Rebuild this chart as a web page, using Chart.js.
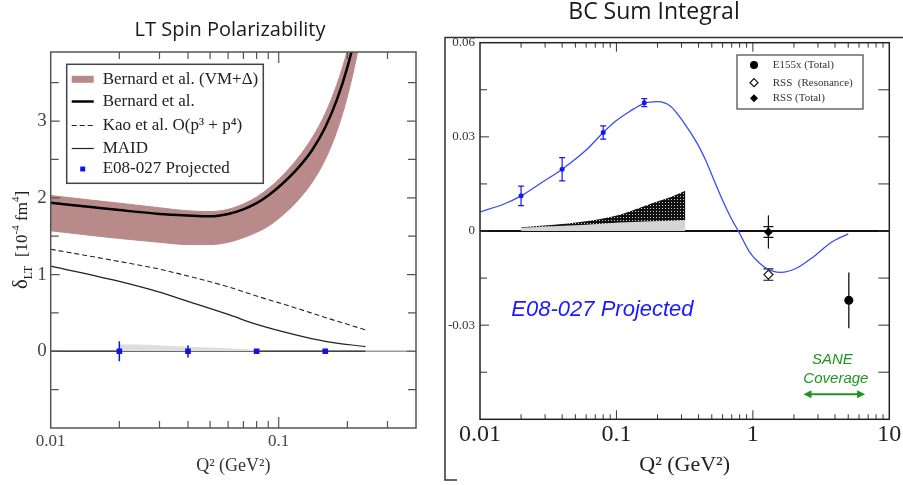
<!DOCTYPE html>
<html><head><meta charset="utf-8">
<script src="https://cdn.jsdelivr.net/npm/chart.js@4.4.1/dist/chart.umd.min.js"></script>
<style>
html,body{margin:0;padding:0;background:#fff;}
#wrap{position:relative;width:903px;height:485px;overflow:hidden;background:#fff;}
#c1{position:absolute;left:0;top:0;}
#c2{position:absolute;left:430px;top:0;}
</style></head><body>
<div id="wrap">
<canvas id="c1" width="430" height="485"></canvas>
<canvas id="c2" width="473" height="485"></canvas>
</div>
<script>
// ================= LEFT PANEL: LT Spin Polarizability =================
const ltQ2 = [0.01, 0.015, 0.02, 0.03, 0.04, 0.05, 0.06, 0.07, 0.08, 0.09, 0.1, 0.12, 0.14, 0.16, 0.18, 0.2, 0.22, 0.24];
const bernardUpper   = [2.03, 1.97, 1.93, 1.87, 1.83, 1.82, 1.85, 1.92, 2.01, 2.12, 2.24, 2.50, 2.78, 3.10, 3.48, 3.92, 4.45, 5.10];
const bernardLower   = [1.57, 1.51, 1.47, 1.42, 1.39, 1.39, 1.42, 1.48, 1.55, 1.63, 1.73, 1.95, 2.20, 2.50, 2.87, 3.32, 3.85, 4.50];
const bernardCentral = [1.935, 1.88, 1.84, 1.79, 1.77, 1.76, 1.79, 1.85, 1.93, 2.03, 2.14, 2.37, 2.62, 2.92, 3.28, 3.70, 4.20, 4.80];
const kaoQ2   = [0.01, 0.02, 0.03, 0.04, 0.06, 0.08, 0.12, 0.16, 0.24];
const kaoVals = [1.33, 1.17, 1.07, 0.98, 0.84, 0.72, 0.56, 0.44, 0.28];
const maidQ2   = [0.01, 0.02, 0.03, 0.04, 0.06, 0.08, 0.12, 0.16, 0.24];
const maidVals = [1.11, 0.91, 0.77, 0.65, 0.48, 0.35, 0.21, 0.13, 0.06];
const ltProjQ2   = [0.02, 0.04, 0.08, 0.16];
const ltProjVals = [0, 0, 0, 0];
const ltProjErr  = [0.13, 0.08, 0.03, 0.01];
const ltSysQ2   = [0.02, 0.03, 0.04, 0.06, 0.08];
const ltSysVals = [0.09, 0.08, 0.06, 0.04, 0.02];
const ltXTicks  = [0.01, 0.02, 0.03, 0.04, 0.05, 0.06, 0.07, 0.08, 0.09, 0.1, 0.2, 0.3];
const ltXLabels = ['0.01', '', '', '', '', '', '', '', '', '0.1', '', ''];
const ltYTicks  = [-1, -0.5, 0, 0.5, 1, 1.5, 2, 2.5, 3, 3.5];
const ltYLabels = ['', '', '0', '', '1', '', '2', '', '3', ''];
const ltModelEndQ2 = 0.24;

// ================= RIGHT PANEL: BC Sum Integral =================
const bcCurveQ2   = [0.01, 0.015, 0.02, 0.028, 0.04, 0.06, 0.08, 0.1, 0.125, 0.16, 0.2, 0.25, 0.31, 0.39, 0.45, 0.51, 0.6, 0.68, 0.8, 0.95, 1.2, 1.4, 1.6, 2.1, 2.8, 3.7, 5.0];
const bcCurveVals = [0.0061, 0.0086, 0.0112, 0.0153, 0.0197, 0.0258, 0.0314, 0.0352, 0.0381, 0.0407, 0.0412, 0.0397, 0.0347, 0.0280, 0.0226, 0.0170, 0.0098, 0.0048, -0.0008, -0.0068, -0.0113, -0.0128, -0.0132, -0.0118, -0.0081, -0.0038, -0.0009];
const bcProjQ2   = [0.02, 0.04, 0.08, 0.16];
const bcProjVals = [0.0112, 0.0197, 0.0314, 0.0409];
const bcProjErr  = [0.0031, 0.0037, 0.0021, 0.0013];
const bcSysQ2   = [0.02, 0.035, 0.06, 0.106, 0.185, 0.25, 0.32];
const bcSysLow  = [0.0010, 0.0015, 0.0020, 0.0027, 0.0031, 0.0033, 0.0035];
const bcSysHigh = [0.0012, 0.0020, 0.0031, 0.0052, 0.0089, 0.0108, 0.0128];
const e155Q2 = [5.05], e155Vals = [-0.0221], e155Err = [0.0089];
const rssResQ2 = [1.3], rssResVals = [-0.0139], rssResErr = [0.0018];
const rssTotQ2 = [1.3], rssTotVals = [-0.0003], rssTotErr = [0.0053], rssTotStatErr = [0.0017];
const bcXTicks  = [0.01,0.02,0.03,0.04,0.05,0.06,0.07,0.08,0.09,0.1,0.2,0.3,0.4,0.5,0.6,0.7,0.8,0.9,1,2,3,4,5,6,7,8,9,10];
const bcXLabels = ['0.01','','','','','','','','','0.1','','','','','','','','','1','','','','','','','','','10'];
const bcYTicks  = [-0.06, -0.045, -0.03, -0.015, 0, 0.015, 0.03, 0.045, 0.06];
const bcYLabels = ['', '', '-0.03', '', '0', '', '0.03', '', '0.06'];
const saneRange = [2.35, 6.65];

// ================= helpers =================
const SERIF = '"Liberation Serif", "Times New Roman", serif';
const SANS = '"Liberation Sans", Arial, sans-serif';
function pts(xs, ys) { return xs.map((x, i) => ({x: x, y: ys[i]})); }

function drawErrorBars(chart) {
  const ctx = chart.ctx, ys = chart.scales.y;
  chart.data.datasets.forEach((ds, i) => {
    if (!ds.errs) return;
    const meta = chart.getDatasetMeta(i);
    ds.errs.forEach(spec => {
      ctx.save();
      ctx.strokeStyle = spec.color; ctx.lineWidth = spec.width;
      meta.data.forEach((pt, j) => {
        const v = ds.data[j].y, e = spec.values[j];
        const y1 = ys.getPixelForValue(v + e), y2 = ys.getPixelForValue(v - e), x = pt.x;
        ctx.beginPath();
        ctx.moveTo(x, y1); ctx.lineTo(x, y2);
        if (spec.cap) {
          ctx.moveTo(x - spec.cap, y1); ctx.lineTo(x + spec.cap, y1);
          ctx.moveTo(x - spec.cap, y2); ctx.lineTo(x + spec.cap, y2);
        }
        ctx.stroke();
      });
      ctx.restore();
    });
  });
}

function drawFrameTicks(chart, c) {
  const ctx = chart.ctx, a = chart.chartArea, xs = chart.scales.x, ys = chart.scales.y;
  ctx.save();
  ctx.strokeStyle = c.color; ctx.lineWidth = c.tickWidth;
  ctx.beginPath();
  xs.ticks.forEach((t, i) => {
    const px = xs.getPixelForValue(t.value);
    if (px < a.left + 1 || px > a.right - 1) return;
    const L = c.xLabels[i] ? c.xMajorLen : c.xMinorLen;
    ctx.moveTo(px, a.bottom); ctx.lineTo(px, a.bottom - L);
    ctx.moveTo(px, a.top); ctx.lineTo(px, a.top + L);
  });
  ys.ticks.forEach((t, i) => {
    const py = ys.getPixelForValue(t.value);
    if (py < a.top + 1 || py > a.bottom - 1) return;
    const L = c.yLabels[i] ? c.yMajorLen : c.yMinorLen;
    ctx.moveTo(a.left, py); ctx.lineTo(a.left + L, py);
    ctx.moveTo(a.right, py); ctx.lineTo(a.right - (c.yRightLen || L), py);
  });
  ctx.stroke();
  ctx.lineWidth = c.frameWidth; ctx.strokeStyle = c.frameColor;
  ctx.strokeRect(a.left, a.top, a.right - a.left, a.bottom - a.top);
  ctx.restore();
}

function drawLegend(chart, c) {
  const ctx = chart.ctx, a = chart.chartArea;
  const bx = a.left + c.dx, by = a.top + c.dy;
  ctx.save();
  ctx.fillStyle = '#fff';
  ctx.fillRect(bx, by, c.w, c.h);
  ctx.strokeStyle = c.border; ctx.lineWidth = c.borderWidth;
  ctx.strokeRect(bx, by, c.w, c.h);
  let row = 0;
  chart.data.datasets.forEach(ds => {
    if (!ds.label) return;
    const y = by + c.rows[row++];
    if (ds.showLine) {
      ctx.save();
      ctx.strokeStyle = ds.legendColor || ds.borderColor;
      ctx.lineWidth = ds.legendWidth || ds.borderWidth;
      ctx.setLineDash(ds.borderDash || []);
      ctx.beginPath(); ctx.moveTo(bx + c.sx0, y); ctx.lineTo(bx + c.sx1, y); ctx.stroke();
      ctx.restore();
    } else {
      ctx.save();
      ctx.fillStyle = ds.pointBackgroundColor; ctx.strokeStyle = ds.pointBorderColor;
      Chart.helpers.drawPoint(ctx, {pointStyle: ds.pointStyle, radius: ds.legendRadius || ds.pointRadius, rotation: 0, borderWidth: ds.pointBorderWidth || 0}, bx + (c.sx0 + c.sx1) / 2, y);
      ctx.restore();
    }
    ctx.fillStyle = c.textColor; ctx.font = c.font;
    ctx.textAlign = 'left'; ctx.textBaseline = 'middle';
    ctx.fillText(ds.label, bx + c.tx, y + (c.textDy || 0));
  });
  ctx.restore();
}

function dotPattern() {
  const c = document.createElement('canvas'); c.width = 3; c.height = 3;
  const g = c.getContext('2d');
  g.fillStyle = '#111'; g.fillRect(0, 0, 3, 3);
  g.fillStyle = '#cfcfcf'; g.fillRect(1, 1, 1, 1);
  return g.createPattern(c, 'repeat');
}

// ================= LEFT CHART =================
const BAND = '#b98a8a';
const leftDecor = {
  id: 'leftDecor',
  beforeDatasetsDraw(chart) {
    const ctx = chart.ctx, a = chart.chartArea, xs = chart.scales.x, ys = chart.scales.y;
    const y0 = ys.getPixelForValue(0);
    ctx.save();
    ctx.strokeStyle = '#9a9a9a'; ctx.lineWidth = 1.5;
    ctx.beginPath(); ctx.moveTo(a.left, y0); ctx.lineTo(a.right, y0); ctx.stroke();
    ctx.strokeStyle = '#444'; ctx.lineWidth = 1.5;
    ctx.beginPath(); ctx.moveTo(a.left, y0); ctx.lineTo(xs.getPixelForValue(ltModelEndQ2), y0); ctx.stroke();
    ctx.restore();
  },
  afterDatasetsDraw(chart) { drawErrorBars(chart); },
  afterDraw(chart) {
    const ctx = chart.ctx;
    drawFrameTicks(chart, {color: '#555', tickWidth: 1.2, frameColor: '#555', frameWidth: 1.5,
      xLabels: ltXLabels, yLabels: ltYLabels, xMajorLen: 11, xMinorLen: 7, yMajorLen: 9, yMinorLen: 8});
    drawLegend(chart, {dx: 16, dy: 12.3, w: 196.6, h: 119, border: '#444', borderWidth: 1.5,
      rows: [15, 37.2, 61.2, 84.2, 104.7], sx0: 5, sx1: 27, tx: 36, font: '17px ' + SERIF, textColor: '#222'});
    // title
    ctx.save();
    ctx.fillStyle = '#1a1a1a'; ctx.font = '20px "Open Sans"';
    ctx.textAlign = 'center'; ctx.textBaseline = 'alphabetic';
    ctx.fillText('LT Spin Polarizability', 230, 35.5);
    // y-axis title with subscript / superscripts
    const parts = [
      {t: 'δ', f: '21px ' + SERIF, dy: 0},
      {t: 'LT', f: '12px ' + SERIF, dy: 5},
      {t: '  [10', f: '17px ' + SERIF, dy: 0},
      {t: '-4', f: '11px ' + SERIF, dy: -8},
      {t: ' fm', f: '17px ' + SERIF, dy: 0},
      {t: '4', f: '11px ' + SERIF, dy: -8},
      {t: ']', f: '17px ' + SERIF, dy: 0}
    ];
    let total = 0;
    parts.forEach(p => { ctx.font = p.f; p.w = ctx.measureText(p.t).width; total += p.w; });
    ctx.translate(27, 240); ctx.rotate(-Math.PI / 2);
    ctx.textAlign = 'left'; ctx.textBaseline = 'alphabetic'; ctx.fillStyle = '#222';
    let x = -total / 2;
    parts.forEach(p => { ctx.font = p.f; ctx.fillText(p.t, x, p.dy); x += p.w; });
    ctx.restore();
  }
};

new Chart(document.getElementById('c1'), {
  type: 'scatter',
  data: {
    datasets: [
      {data: pts(ltQ2, bernardLower), showLine: true, borderColor: BAND, borderWidth: 1, pointRadius: 0, fill: false, cubicInterpolationMode: 'monotone', order: 10},
      {label: 'Bernard et al. (VM+Δ)', data: pts(ltQ2, bernardUpper), showLine: true, borderColor: BAND, backgroundColor: BAND, borderWidth: 1, legendWidth: 7, pointRadius: 0, fill: '-1', cubicInterpolationMode: 'monotone', order: 9},
      {label: 'Bernard et al.', data: pts(ltQ2, bernardCentral), showLine: true, borderColor: '#000', borderWidth: 2.5, pointRadius: 0, cubicInterpolationMode: 'monotone', order: 3},
      {label: 'Kao et al. O(p³ + p⁴)', data: pts(kaoQ2, kaoVals), showLine: true, borderColor: '#222', borderWidth: 1.1, borderDash: [5, 3], pointRadius: 0, cubicInterpolationMode: 'monotone', order: 4},
      {label: 'MAID', data: pts(maidQ2, maidVals), showLine: true, borderColor: '#222', borderWidth: 1.2, pointRadius: 0, cubicInterpolationMode: 'monotone', order: 5},
      {data: pts(ltSysQ2, ltSysVals), showLine: true, borderWidth: 0, borderColor: 'rgba(0,0,0,0)', backgroundColor: '#dedede', pointRadius: 0, fill: 'origin', cubicInterpolationMode: 'monotone', order: 8},
      {label: 'E08-027 Projected', data: pts(ltProjQ2, ltProjVals), showLine: false, pointStyle: 'rect', pointRadius: 4, legendRadius: 3.5,
       pointBackgroundColor: '#1212e6', pointBorderColor: '#1212e6', pointBorderWidth: 0, order: 0,
       errs: [{values: ltProjErr, color: '#1212e6', width: 1.5, cap: 0}]}
    ]
  },
  options: {
    responsive: false, animation: false, events: [],
    layout: {padding: {left: 0, right: 14, top: 52, bottom: 0}},
    plugins: {legend: {display: false}, title: {display: false}, tooltip: {enabled: false}},
    scales: {
      x: {type: 'logarithmic', min: 0.01, max: 0.4,
        afterBuildTicks: s => { s.ticks = ltXTicks.map(v => ({value: v})); },
        afterFit: s => { s.height = 57; },
        grid: {display: false, drawTicks: false}, border: {display: false},
        ticks: {autoSkip: false, maxRotation: 0, padding: 3.5, color: '#444', font: {family: SERIF, size: 17},
          callback: (v, i) => ltXLabels[i]},
        title: {display: true, text: 'Q² (GeV²)', color: '#333', font: {family: SERIF, size: 18}, padding: {top: 0, bottom: 7.5}}
      },
      y: {type: 'linear', min: -1, max: 3.9,
        afterBuildTicks: s => { s.ticks = ltYTicks.map(v => ({value: v})); },
        afterFit: s => { s.width = 50.7; },
        grid: {display: false, drawTicks: false}, border: {display: false},
        ticks: {autoSkip: false, padding: 4, color: '#444', font: {family: SERIF, size: 19},
          callback: (v, i) => ltYLabels[i]}
      }
    }
  },
  plugins: [leftDecor]
});

// ================= RIGHT CHART =================
const rightDecor = {
  id: 'rightDecor',
  beforeDatasetsDraw(chart) {
    const ctx = chart.ctx, a = chart.chartArea, ys = chart.scales.y;
    const y0 = ys.getPixelForValue(0);
    ctx.save();
    ctx.strokeStyle = '#111'; ctx.lineWidth = 2;
    ctx.beginPath(); ctx.moveTo(a.left, y0); ctx.lineTo(a.right, y0); ctx.stroke();
    ctx.restore();
    drawErrorBars(chart);
  },
  afterDraw(chart) {
    const ctx = chart.ctx, a = chart.chartArea, xs = chart.scales.x, ys = chart.scales.y;
    drawFrameTicks(chart, {color: '#333', tickWidth: 1, frameColor: '#222', frameWidth: 1.5,
      xLabels: bcXLabels, yLabels: bcYLabels, xMajorLen: 9, xMinorLen: 5, yMajorLen: 9, yMinorLen: 7, yRightLen: 11});
    drawLegend(chart, {dx: 257, dy: 12.3, w: 126, h: 54, border: '#444', borderWidth: 1.2,
      rows: [10, 27.7, 43.3], sx0: 10, sx1: 24, tx: 35.7, font: '11px ' + SERIF, textColor: '#333'});
    ctx.save();
    // outer bracket frame of the panel
    ctx.strokeStyle = '#333'; ctx.lineWidth = 1.5;
    ctx.beginPath();
    ctx.moveTo(473, 37.5); ctx.lineTo(15, 37.5); ctx.lineTo(15, 480); ctx.lineTo(27, 480);
    ctx.stroke();
    // title
    ctx.fillStyle = '#1a1a1a'; ctx.font = '23px "Open Sans"';
    ctx.textAlign = 'center'; ctx.textBaseline = 'alphabetic';
    ctx.fillText('BC Sum Integral', 224, 18.5);
    // annotations
    ctx.fillStyle = '#1a1aff'; ctx.font = 'italic 22px ' + SANS;
    ctx.textBaseline = 'middle';
    ctx.fillText('E08-027 Projected', xs.getPixelForValue(0.079), ys.getPixelForValue(-0.025));
    ctx.fillStyle = '#1e961e'; ctx.font = 'italic 15px ' + SANS;
    ctx.fillText('SANE', xs.getPixelForValue(3.83), ys.getPixelForValue(-0.0412));
    ctx.fillText('Coverage', xs.getPixelForValue(4.06), ys.getPixelForValue(-0.047));
    const ax0 = xs.getPixelForValue(saneRange[0]), ax1 = xs.getPixelForValue(saneRange[1]), ay = ys.getPixelForValue(-0.052);
    ctx.strokeStyle = '#1e961e'; ctx.lineWidth = 2;
    ctx.beginPath(); ctx.moveTo(ax0 + 3, ay); ctx.lineTo(ax1 - 3, ay); ctx.stroke();
    ctx.beginPath();
    ctx.moveTo(ax0, ay); ctx.lineTo(ax0 + 8, ay - 4); ctx.lineTo(ax0 + 8, ay + 4); ctx.closePath();
    ctx.moveTo(ax1, ay); ctx.lineTo(ax1 - 8, ay - 4); ctx.lineTo(ax1 - 8, ay + 4); ctx.closePath();
    ctx.fill();
    ctx.restore();
  }
};

new Chart(document.getElementById('c2'), {
  type: 'scatter',
  data: {
    datasets: [
      {data: pts(bcSysQ2, bcSysLow), showLine: true, borderWidth: 0, borderColor: 'rgba(0,0,0,0)', backgroundColor: '#d4d4d4', pointRadius: 0, fill: 'origin', order: 9},
      {data: pts(bcSysQ2, bcSysHigh), showLine: true, borderWidth: 0, borderColor: 'rgba(0,0,0,0)', backgroundColor: dotPattern(), pointRadius: 0, fill: '-1', cubicInterpolationMode: 'monotone', order: 8},
      {data: pts(bcCurveQ2, bcCurveVals), showLine: true, borderColor: '#3b4cf2', borderWidth: 1.3, pointRadius: 0, cubicInterpolationMode: 'monotone', order: 5},
      {data: pts(bcProjQ2, bcProjVals), showLine: false, pointStyle: 'circle', pointRadius: 2.5, pointBackgroundColor: '#1818ee', pointBorderColor: '#1818ee', pointBorderWidth: 0, order: 4,
       errs: [{values: bcProjErr, color: '#1818ee', width: 1.2, cap: 3}]},
      {label: 'E155x (Total)', data: pts(e155Q2, e155Vals), showLine: false, pointStyle: 'circle', pointRadius: 4.5, legendRadius: 4, pointBackgroundColor: '#000', pointBorderColor: '#000', pointBorderWidth: 0, order: 1,
       errs: [{values: e155Err, color: '#111', width: 1.3, cap: 0}]},
      {label: 'RSS  (Resonance)', data: pts(rssResQ2, rssResVals), showLine: false, pointStyle: 'rectRot', pointRadius: 4.5, legendRadius: 4, pointBackgroundColor: '#fff', pointBorderColor: '#111', pointBorderWidth: 1.2, order: 2,
       errs: [{values: rssResErr, color: '#111', width: 1.2, cap: 5}]},
      {label: 'RSS (Total)', data: pts(rssTotQ2, rssTotVals), showLine: false, pointStyle: 'rectRot', pointRadius: 4.5, legendRadius: 4, pointBackgroundColor: '#000', pointBorderColor: '#000', pointBorderWidth: 0, order: 1,
       errs: [{values: rssTotErr, color: '#111', width: 1.2, cap: 0}, {values: rssTotStatErr, color: '#111', width: 1.2, cap: 5}]}
    ]
  },
  options: {
    responsive: false, animation: false, events: [],
    layout: {padding: {left: 0, right: 13.7, top: 42.7, bottom: 0}},
    plugins: {legend: {display: false}, title: {display: false}, tooltip: {enabled: false}},
    scales: {
      x: {type: 'logarithmic', min: 0.01, max: 10,
        afterBuildTicks: s => { s.ticks = bcXTicks.map(v => ({value: v})); },
        afterFit: s => { s.height = 65.7; },
        grid: {display: false, drawTicks: false}, border: {display: false},
        ticks: {autoSkip: false, maxRotation: 0, padding: 1, color: '#222', font: {family: SERIF, size: 24},
          callback: (v, i) => bcXLabels[i]},
        title: {display: true, text: 'Q² (GeV²)', color: '#222', font: {family: SERIF, size: 22}, padding: {top: 0, bottom: 6.8}}
      },
      y: {type: 'linear', min: -0.06, max: 0.06,
        afterBuildTicks: s => { s.ticks = bcYTicks.map(v => ({value: v})); },
        afterFit: s => { s.width = 50; },
        grid: {display: false, drawTicks: false}, border: {display: false},
        ticks: {autoSkip: false, padding: 5, color: '#333', font: {family: SERIF, size: 13},
          callback: (v, i) => bcYLabels[i]}
      }
    }
  },
  plugins: [rightDecor]
});
</script>
</body></html>
